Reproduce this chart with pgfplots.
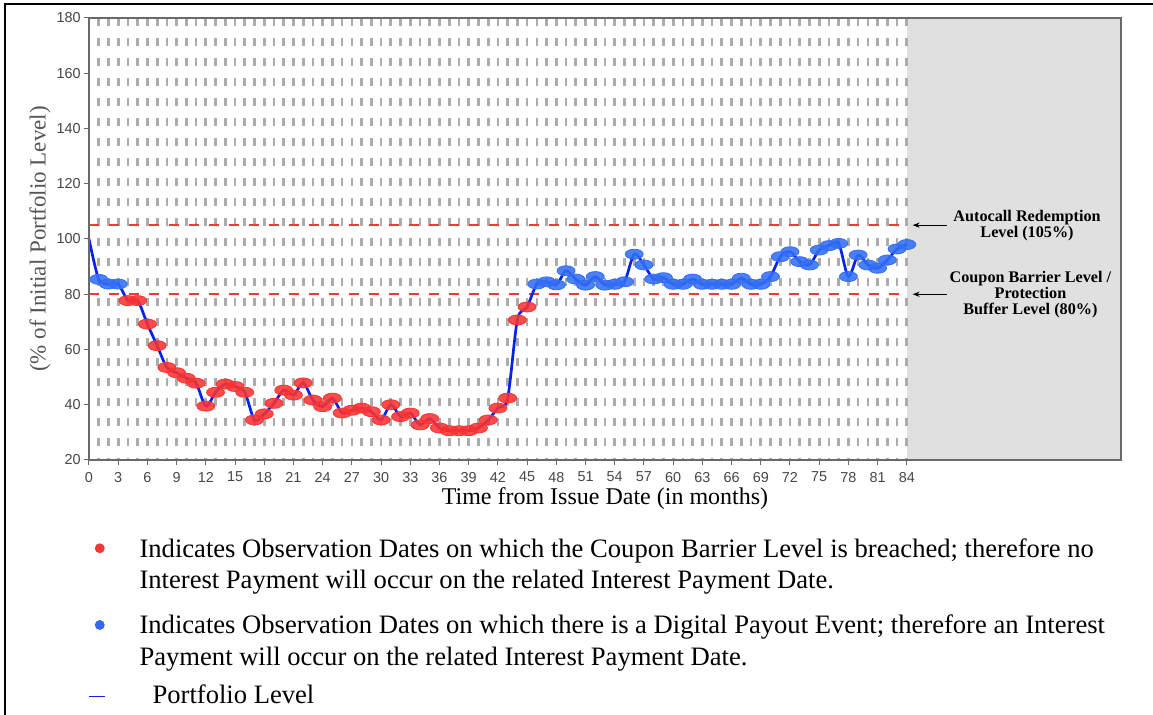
\documentclass[border=0pt]{standalone}
\usepackage{fontspec}
\setmainfont{Liberation Serif}
\newfontfamily\ticksans{Liberation Sans}
\usepackage{pgfplots}
\usepackage{pgfplotstable}
\pgfplotsset{compat=1.18}
\usetikzlibrary{arrows.meta}

\definecolor{gridgray}{RGB}{172,172,172}
\definecolor{shadegray}{RGB}{224,224,224}
\definecolor{axisgray}{RGB}{105,105,105}
\definecolor{tickgray}{RGB}{70,70,70}
\definecolor{ylabgray}{RGB}{85,85,85}
\definecolor{refred}{RGB}{250,55,55}
\definecolor{mkred}{RGB}{250,50,50}
\definecolor{mkblue}{RGB}{50,110,245}
\definecolor{legred}{RGB}{240,55,55}
\definecolor{legblue}{RGB}{50,105,240}
\definecolor{linecol}{RGB}{5,35,235}

\pgfplotstableread{
m v
0 100
1 85.4
2 83.7
3 83.7
4 77.7
5 77.7
6 69.2
7 61.4
8 53.5
9 51.6
10 49.6
11 47.8
12 39.5
13 44.5
14 47.5
15 46.6
16 44.5
17 34.5
18 36.7
19 40.5
20 45.3
21 43.5
22 47.9
23 41.7
24 39.3
25 42.4
26 37.0
27 38.0
28 38.8
29 37.5
30 34.5
31 40.0
32 35.7
33 37.0
34 32.7
35 35.0
36 31.6
37 30.6
38 30.6
39 30.6
40 31.6
41 34.5
42 38.8
43 42.4
44 70.7
45 75.4
46 83.7
47 84.5
48 83.4
49 88.5
50 85.5
51 83.3
52 86.4
53 83.3
54 83.6
55 84.5
56 94.5
57 90.6
58 85.5
59 86.0
60 83.6
61 83.6
62 85.5
63 83.6
64 83.6
65 83.6
66 83.6
67 85.8
68 83.6
69 83.6
70 86.4
71 93.6
72 95.4
73 91.8
74 90.6
75 96.0
76 97.6
77 98.4
78 86.4
79 94.2
80 90.6
81 89.4
82 92.4
83 96.4
84 98.0
}\alldata

\pgfplotstableread{
m v
4 77.7
5 77.7
6 69.2
7 61.4
8 53.5
9 51.6
10 49.6
11 47.8
12 39.5
13 44.5
14 47.5
15 46.6
16 44.5
17 34.5
18 36.7
19 40.5
20 45.3
21 43.5
22 47.9
23 41.7
24 39.3
25 42.4
26 37.0
27 38.0
28 38.8
29 37.5
30 34.5
31 40.0
32 35.7
33 37.0
34 32.7
35 35.0
36 31.6
37 30.6
38 30.6
39 30.6
40 31.6
41 34.5
42 38.8
43 42.4
44 70.7
45 75.4
}\redpts

\pgfplotstableread{
m v
1 85.4
2 83.7
3 83.7
46 83.7
47 84.5
48 83.4
49 88.5
50 85.5
51 83.3
52 86.4
53 83.3
54 83.6
55 84.5
56 94.5
57 90.6
58 85.5
59 86.0
60 83.6
61 83.6
62 85.5
63 83.6
64 83.6
65 83.6
66 83.6
67 85.8
68 83.6
69 83.6
70 86.4
71 93.6
72 95.4
73 91.8
74 90.6
75 96.0
76 97.6
77 98.4
78 86.4
79 94.2
80 90.6
81 89.4
82 92.4
83 96.4
84 98.0
}\bluepts

\newcommand{\legfont}{\fontsize{13.3}{15.85}\selectfont}

\begin{document}
\begin{tikzpicture}
\useasboundingbox (0pt,0pt) rectangle (576.5pt,-357.5pt);
\draw[line width=1pt] (2.5pt,-357.5pt) -- (2.5pt,-2pt) -- (576.5pt,-2pt);
\begin{axis}[
  at={(44.5pt,-230pt)}, anchor=south west,
  scale only axis, width=516pt, height=221pt,
  xmin=0, xmax=106, ymin=20, ymax=180,
  xtick={0,3,...,84}, ytick={20,40,...,180},
  tick pos=left, tick align=outside, major tick length=2.5pt,
  every tick/.style={axisgray, line width=0.5pt},
  axis line style={axisgray, line width=0.8pt},
  axis on top,
  ticklabel style={font=\ticksans\fontsize{7.2}{8}\selectfont, text=tickgray},
  yticklabel style={xshift=1.8pt},
  /pgf/number format/assume math mode=true,
  xlabel={Time from Issue Date (in months)},
  ylabel={(\% of Initial Portfolio Level)},
  xlabel style={font=\fontsize{12}{14}\selectfont, at={(axis description cs:0.5,-0.087)}, anchor=center},
  ylabel style={font=\fontsize{11.5}{13}\selectfont, text=ylabgray, at={(axis description cs:-0.0475,0.5)}, anchor=center},
  clip=false,
  legend style={
    at={(axis description cs:-0.001,-0.1699)}, anchor=north west,
    draw=none, fill=none, inner sep=0pt, outer sep=0pt,
    column sep=17pt, row sep=3pt,
    nodes={inner sep=0pt, outer sep=0pt, text depth={}, font=\legfont},
    cells={anchor=base west},
  },
]
\fill[shadegray] (axis cs:84,20) rectangle (axis cs:106,180);
\pgfplotsinvokeforeach{1,...,84}{
  \draw[gridgray, line width=1.35pt, dash pattern=on 4pt off 6pt] (axis cs:#1,180) -- (axis cs:#1,20);
}
\draw[refred, line width=1.25pt, dash pattern=on 5pt off 5pt] (axis cs:0,105) -- (axis cs:84,105);
\draw[refred, line width=1.25pt, dash pattern=on 5pt off 5pt] (axis cs:0,80) -- (axis cs:84,80);

\addplot[forget plot, mkred, only marks, mark=*, mark size=2.5pt,
  mark options={xscale=1.8, draw=none, fill=mkred, fill opacity=0.88}] table[x=m,y=v] {\redpts};
\addplot[forget plot, mkblue, only marks, mark=*, mark size=2.5pt,
  mark options={xscale=1.8, draw=none, fill=mkblue, fill opacity=0.88}] table[x=m,y=v] {\bluepts};
\addplot[forget plot, smooth, linecol, line width=1.35pt] table[x=m,y=v] {\alldata};

\draw[-{Stealth[length=3.5pt,width=2.6pt]}, line width=0.5pt] (axis cs:88.1,105) -- (axis cs:84.6,105);
\draw[-{Stealth[length=3.5pt,width=2.6pt]}, line width=0.5pt] (axis cs:88.1,80) -- (axis cs:84.6,80);
\node[font=\bfseries\fontsize{8.1}{8}\selectfont, align=center] at (axis cs:96.35,104.9) {Autocall Redemption\\Level (105\%)};
\node[font=\bfseries\fontsize{8.1}{8}\selectfont, align=center] at (axis cs:96.7,80) {Coupon Barrier Level /\\Protection\\Buffer Level (80\%)};

\addlegendimage{legend image code/.code={\fill[legred] (0pt,4.5pt) circle (2.25pt);}}
\addlegendentry{\begin{tabular}[t]{@{}l@{}}Indicates Observation Dates on which the Coupon Barrier Level is breached; therefore no\\Interest Payment will occur on the related Interest Payment Date.\rule[-8.4pt]{0pt}{0pt}\end{tabular}}
\addlegendimage{legend image code/.code={\fill[legblue] (0pt,4.5pt) circle (2.25pt);}}
\addlegendentry{\begin{tabular}[t]{@{}l@{}}Indicates Observation Dates on which there is a Digital Payout Event; therefore an Interest\\Payment will occur on the related Interest Payment Date.\end{tabular}}
\addlegendimage{legend image code/.code={\draw[linecol, line width=0.8pt] (-5.5pt,3.3pt) -- (2.5pt,3.3pt);}}
\addlegendentry{\rule{0pt}{11.05pt}\hspace*{6.5pt}Portfolio Level}
\end{axis}
\end{tikzpicture}
\end{document}
